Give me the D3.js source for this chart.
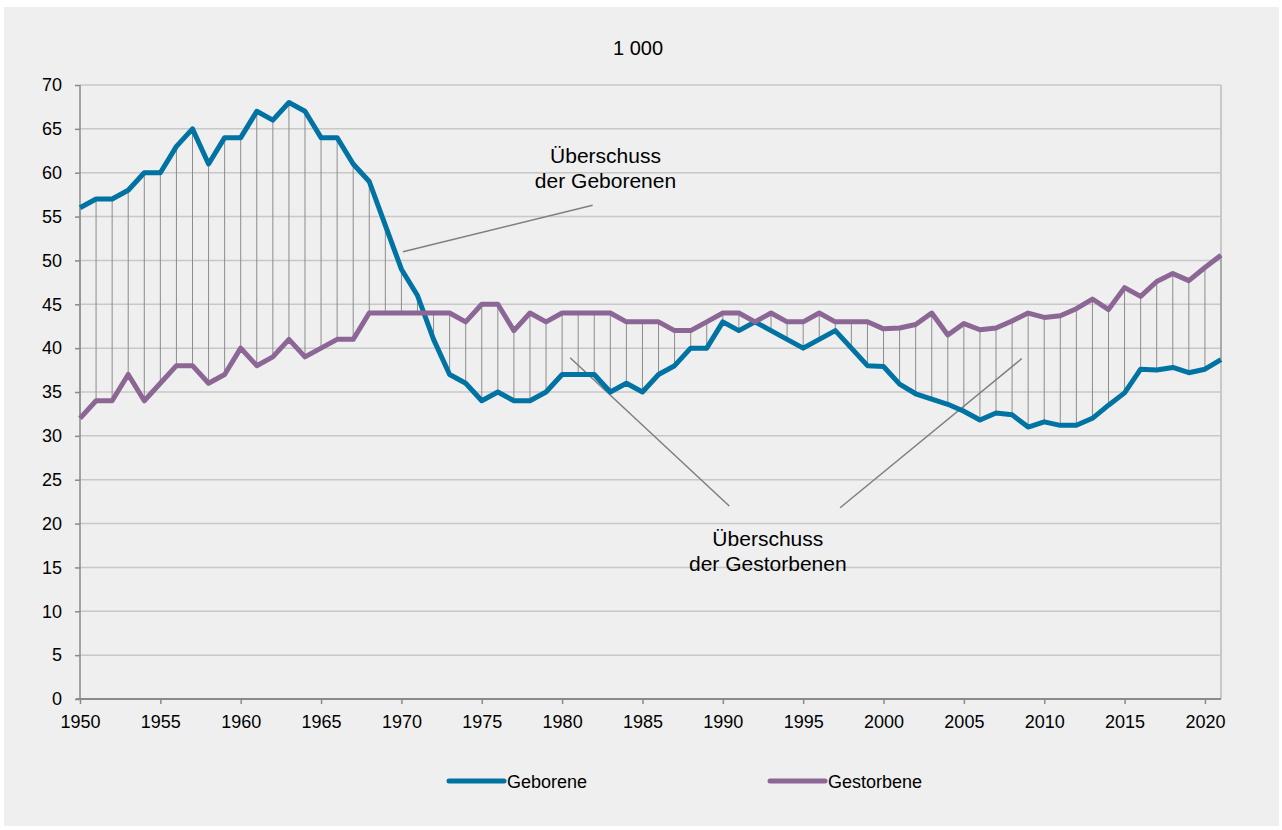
<!DOCTYPE html>
<html>
<head>
<meta charset="utf-8">
<script src="https://cdn.jsdelivr.net/npm/d3@7"></script>
<style>
  body { margin: 0; background: #fff; font-family: "Liberation Sans", Arial, sans-serif; }
  #chart { position: absolute; left: 0; top: 0; }
</style>
</head>
<body>
<div id="chart"></div>
<script>
// years 1950..2021, values in 1 000
const years = d3.range(1950, 2022);
const geborene = [
  56, 57, 57, 58, 60, 60, 63, 65, 61, 64,
  64, 67, 66, 68, 67, 64, 64, 61, 59, 54,
  49, 46, 41, 37, 36, 34, 35, 34, 34, 35,
  37, 37, 37, 35, 36, 35, 37, 38, 40, 40,
  43, 42, 43, 42, 41, 40, 41, 42, 40, 38,
  37.9, 35.9, 34.8, 34.2, 33.6, 32.8, 31.8, 32.6, 32.4, 31.0,
  31.6, 31.2, 31.2, 32.0, 33.5, 34.9, 37.6, 37.5, 37.8, 37.2,
  37.6, 38.7
];
const gestorbene = [
  32, 34, 34, 37, 34, 36, 38, 38, 36, 37,
  40, 38, 39, 41, 39, 40, 41, 41, 44, 44,
  44, 44, 44, 44, 43, 45, 45, 42, 44, 43,
  44, 44, 44, 44, 43, 43, 43, 42, 42, 43,
  44, 44, 43, 44, 43, 43, 44, 43, 43, 43,
  42.2, 42.3, 42.7, 44.0, 41.5, 42.8, 42.1, 42.3, 43.1, 44.0,
  43.5, 43.7, 44.5, 45.6, 44.4, 46.9, 45.9, 47.6, 48.5, 47.7,
  49.2, 50.6
];
const yTicks = d3.range(0, 71, 5);
const xTicks = d3.range(1950, 2021, 5);
const seriesNames = ["Geborene", "Gestorbene"];
const seriesColors = ["#0073a3", "#8c6796"];

// annotation texts and where their pointer lines go (year, value)
const notes = [
  { lines: ["Überschuss", "der Geborenen"], at: [1982.7, 61.1],
    pointers: [[[1970.1, 51.0], [1981.9, 56.3]]] },
  { lines: ["Überschuss", "der Gestorbenen"], at: [1992.8, 17.4],
    pointers: [[[1980.5, 38.9], [1990.4, 22.0]], [[1997.3, 21.8], [2008.6, 38.8]]] }
];

const W = 1282, H = 830;
const margin = { top: 85, right: 61, bottom: 131, left: 80 };
const width = W - margin.left - margin.right;
const height = H - margin.top - margin.bottom;

const svg = d3.select("#chart").append("svg")
  .attr("width", W).attr("height", H);

svg.append("rect")
  .attr("x", 4).attr("y", 7).attr("width", W - 7).attr("height", H - 11)
  .attr("fill", "#eeefee");

svg.append("text")
  .attr("x", 638).attr("y", 55)
  .attr("text-anchor", "middle")
  .style("font-size", "20px")
  .text("1 000");

const g = svg.append("g").attr("transform", `translate(${margin.left},${margin.top})`);

const x = d3.scaleLinear().domain([1950, 2021]).range([0, width]);
const y = d3.scaleLinear().domain([0, 70]).range([height, 0]);

// grid
g.append("g").selectAll("line")
  .data(yTicks.filter(d => d > 0))
  .join("line")
  .attr("x1", 0).attr("x2", width)
  .attr("y1", d => y(d)).attr("y2", d => y(d))
  .attr("stroke", "#c8c8c8").attr("stroke-width", 1.5);

g.append("line")
  .attr("x1", width).attr("x2", width)
  .attr("y1", 0).attr("y2", height)
  .attr("stroke", "#c8c8c8").attr("stroke-width", 2);

// y axis
const yAxis = g.append("g")
  .call(d3.axisLeft(y).tickValues(yTicks).tickSize(5).tickPadding(13));
yAxis.select(".domain").attr("stroke", "#8a8a8a").attr("stroke-width", 1.5)
  .attr("d", `M0,${height}V0`);
yAxis.selectAll(".tick line").attr("stroke", "#8a8a8a").attr("stroke-width", 1.5);
yAxis.selectAll("text").style("font-size", "18px").attr("fill", "#000")
  .style("font-family", "Liberation Sans, Arial, sans-serif");

// x axis
const xAxis = g.append("g")
  .attr("transform", `translate(0,${height})`)
  .call(d3.axisBottom(x).tickValues(xTicks).tickFormat(d3.format("d")).tickSize(5).tickPadding(11));
xAxis.select(".domain").attr("stroke", "#8a8a8a").attr("stroke-width", 2)
  .attr("d", `M-4,0H${width}`);
xAxis.selectAll(".tick line").attr("stroke", "#8a8a8a").attr("stroke-width", 1.5);
xAxis.selectAll("text").style("font-size", "18px").attr("fill", "#000")
  .style("font-family", "Liberation Sans, Arial, sans-serif");

// hi-lo drop lines between the two series
g.append("g").selectAll("line")
  .data(years)
  .join("line")
  .attr("x1", d => x(d)).attr("x2", d => x(d))
  .attr("y1", (d, i) => y(geborene[i])).attr("y2", (d, i) => y(gestorbene[i]))
  .attr("stroke", "#8c8c8c").attr("stroke-width", 1);

// annotations
notes.forEach(n => {
  n.pointers.forEach(p => {
    g.append("line")
      .attr("x1", x(p[0][0])).attr("y1", y(p[0][1]))
      .attr("x2", x(p[1][0])).attr("y2", y(p[1][1]))
      .attr("stroke", "#7f7f7f").attr("stroke-width", 1.5);
  });
  const t = g.append("text")
    .attr("x", x(n.at[0])).attr("y", y(n.at[1]))
    .attr("text-anchor", "middle")
    .style("font-size", "21px");
  n.lines.forEach((l, i) => {
    t.append("tspan").attr("x", x(n.at[0])).attr("dy", i === 0 ? 0 : 25).text(l);
  });
});

// series lines
const line = d3.line()
  .x((d, i) => x(years[i]))
  .y(d => y(d));

[geborene, gestorbene].forEach((s, k) => {
  g.append("path")
    .datum(s)
    .attr("fill", "none")
    .attr("stroke", seriesColors[k])
    .attr("stroke-width", 5)
    .attr("stroke-linejoin", "round")
    .attr("d", line);
});

// legend
const legendX = [447, 768];
seriesNames.forEach((name, k) => {
  const lg = svg.append("g").attr("transform", `translate(${legendX[k]},781)`);
  lg.append("line")
    .attr("x1", 2).attr("x2", 57).attr("y1", 0).attr("y2", 0)
    .attr("stroke", seriesColors[k]).attr("stroke-width", 5)
    .attr("stroke-linecap", "round");
  lg.append("text")
    .attr("x", 60).attr("y", 7)
    .style("font-size", "18px")
    .text(name);
});
</script>
</body>
</html>
